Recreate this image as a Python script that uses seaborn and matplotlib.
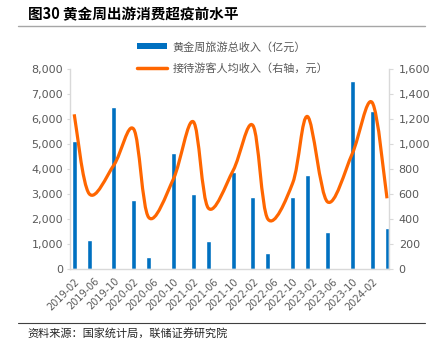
import numpy as np
import pandas as pd
import matplotlib
matplotlib.use("Agg")
import matplotlib.pyplot as plt
import seaborn as sns
from matplotlib.path import Path
from matplotlib.patches import PathPatch, Patch
from matplotlib.lines import Line2D

# ---------------- data ----------------
dates = ["2019-02", "2019-05", "2019-10", "2020-02", "2020-05", "2020-10",
         "2021-02", "2021-05", "2021-10", "2022-02", "2022-05", "2022-10",
         "2023-01", "2023-05", "2023-10", "2024-02", "2024-05"]
revenue = [5140, 1170, 6490, 2770, 480, 4660, 3010, 1130, 3890, 2900, 660,
           2880, 3760, 1480, 7530, 6330, 1660]          # 亿元
per_capita = [1240, 605, 835, 1120, 415, 725, 1180, 490, 790, 1150, 402,
              690, 1222, 540, 925, 1335, 568]          # 元
tick_labels = ["2019-02", "2019-06", "2019-10", "2020-02", "2020-06", "2020-10",
               "2021-02", "2021-06", "2021-10", "2022-02", "2022-06", "2022-10",
               "2023-02", "2023-06", "2023-10", "2024-02"]
bar_label = "黄金周旅游总收入（亿元）"
line_label = "接待游客人均收入（右轴，元）"
title = "图30 黄金周出游消费超疫前水平"
source = "资料来源：国家统计局，联储证券研究院"

# ---------------- style ----------------
sns.set_theme(style="white")
plt.rcParams['font.family'] = ['Noto Sans CJK SC', 'DejaVu Sans']

BLUE = "#0070C0"
ORANGE = "#FF6600"
GRAY = "#595959"
SPINE = "#D9D9D9"


def month_idx(s):
    y, m = map(int, s.split("-"))
    return (y - 2019) * 12 + (m - 2)


df = pd.DataFrame({"date": dates, "revenue": revenue, "per_capita": per_capita})
df["m"] = df["date"].map(month_idx)
tick_pos = [month_idx(t) for t in tick_labels]

W, H = 436, 346
fig = plt.figure(figsize=(W / 100, H / 100), dpi=100)
ax = fig.add_axes([70 / W, 1 - 269.3 / H, 319 / W, 200 / H])

sns.barplot(data=df, x="m", y="revenue", native_scale=True, color=BLUE,
            saturation=1, width=1.0 / 3, errorbar=None, ax=ax)

ax2 = ax.twinx()

# Excel-like smoothed line (cubic Bezier through the data points)
px = df["m"].to_numpy(float)
py = df["per_capita"].to_numpy(float)
n = len(px)
verts = [(px[0], py[0])]
codes = [Path.MOVETO]
for i in range(n - 1):
    i0 = max(i - 1, 0)
    i3 = min(i + 2, n - 1)
    c1 = (px[i] + (px[i + 1] - px[i0]) / 6, py[i] + (py[i + 1] - py[i0]) / 6)
    c2 = (px[i + 1] - (px[i3] - px[i]) / 6, py[i + 1] - (py[i3] - py[i]) / 6)
    verts += [c1, c2, (px[i + 1], py[i + 1])]
    codes += [Path.CURVE4] * 3
patch = PathPatch(Path(verts, codes), facecolor="none", edgecolor=ORANGE,
                  lw=2.3, capstyle="butt", joinstyle="round",
                  transform=ax2.transData)
ax2.add_patch(patch)

# axes limits / ticks
ax.set_xlim(-0.85, 63.4)
ax.set_ylim(0, 8000)
ax2.set_ylim(0, 1600)

left_ticks = list(range(0, 8001, 1000))
right_ticks = list(range(0, 1601, 200))
ax.set_yticks(left_ticks)
ax.set_yticklabels([f"{v:,}" for v in left_ticks], family="DejaVu Sans")
ax2.set_yticks(right_ticks)
ax2.set_yticklabels([f"{v:,}" for v in right_ticks], family="DejaVu Sans")
ax.set_xticks(tick_pos)
ax.set_xticklabels(tick_labels, rotation=45, ha="right", rotation_mode="anchor",
                   family="DejaVu Sans")
ax.set_xlabel("")
ax.set_ylabel("")
ax2.set_ylabel("")

ax.tick_params(axis="y", length=2.5, width=0.8, color=SPINE, labelsize=8,
               labelcolor=GRAY, pad=2.5)
ax2.tick_params(axis="y", length=3, width=0.8, color=SPINE, labelsize=8,
                labelcolor=GRAY, pad=4)
ax.tick_params(axis="x", length=0, labelsize=7, labelcolor=GRAY, pad=5)

for s in ["top", "right"]:
    ax.spines[s].set_visible(False)
for s in ["left", "bottom"]:
    ax.spines[s].set_color(SPINE)
    ax.spines[s].set_linewidth(1)
for s in ["top", "left", "bottom"]:
    ax2.spines[s].set_visible(False)
ax2.spines["right"].set_color(SPINE)
ax2.spines["right"].set_linewidth(1)
ax.grid(False)
ax2.grid(False)

# legend
handles = [Patch(facecolor=BLUE, edgecolor="none"),
           Line2D([], [], color=ORANGE, lw=2.5)]
fig.legend(handles, [bar_label, line_label], loc="upper left",
           bbox_to_anchor=(137 / W, 1 - 41.5 / H), frameon=False, borderpad=0,
           borderaxespad=0, handlelength=2.7, handleheight=0.45,
           handletextpad=0.5, labelspacing=0.95, fontsize=8, labelcolor=GRAY)

# title, rules, source
fig.text(28 / W, 1 - 14 / H, title, fontsize=10.5, fontweight="bold",
         va="center", ha="left", color="#000000")
fig.add_artist(Line2D([18 / W, 425 / W], [1 - 26 / H] * 2, color="#A6A6A6",
                      lw=1, transform=fig.transFigure))
fig.add_artist(Line2D([18 / W, 425 / W], [1 - 322.5 / H] * 2, color="#404040",
                      lw=0.8, transform=fig.transFigure))
fig.text(27 / W, 1 - 333 / H, source, fontsize=8, va="center", ha="left",
         color="#262626")

fig.savefig("out.png", dpi=100)
